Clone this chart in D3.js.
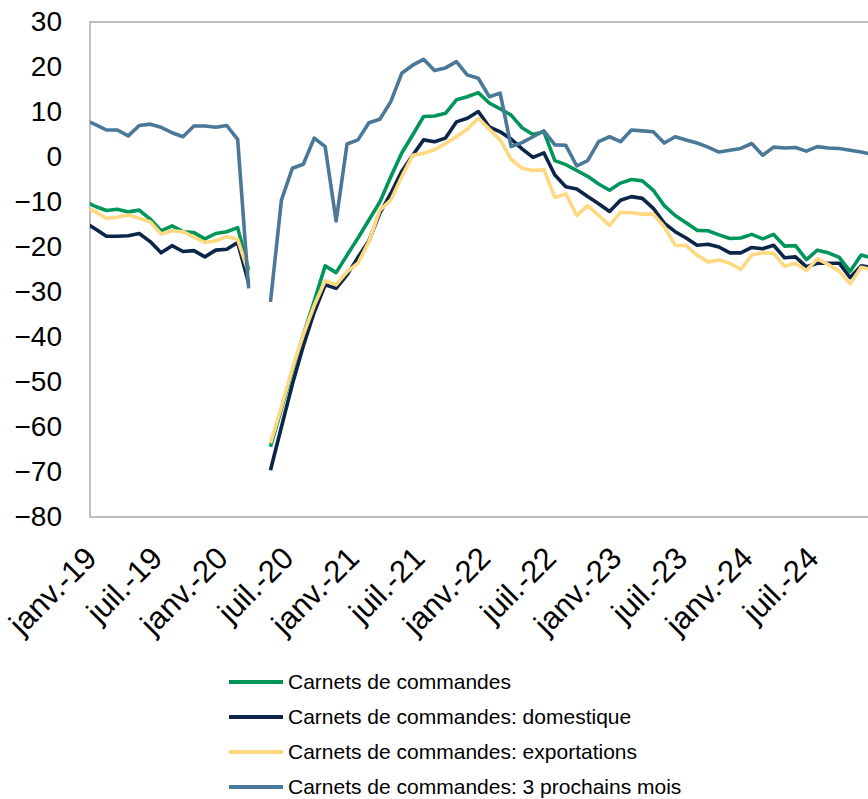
<!DOCTYPE html>
<html>
<head>
<meta charset="utf-8">
<script src="https://cdn.jsdelivr.net/npm/d3@7"></script>
<style>
  html, body { margin: 0; padding: 0; background: #fff; }
  svg { display: block; font-family: "Liberation Sans", Arial, sans-serif; }
</style>
</head>
<body>
<svg id="chart" width="868" height="799"></svg>
<script>
// Monthly survey balances, December 2018 to December 2024 (April 2020 not published).
const startMonth = new Date(2018, 11, 1);

const carnets = [
  -9.8, -11.0, -11.9, -11.6, -12.2, -11.8, -13.8, -16.4, -15.3, -16.6, -16.8, -18.2, -17.0,
  -16.6, -15.7, -25.1, null, -64.4, -56.0, -47.5, -39.5, -32.0, -24.2, -25.7, -21.8,
  -18.0, -14.0, -10.0, -4.4, 0.9, 4.9, 9.0, 9.1, 9.7, 12.7, 13.4, 14.3,
  12.0, 10.7, 9.3, 6.5, 5.0, 5.6, -0.8, -1.7, -3.0, -4.3, -6.0, -7.4,
  -5.8, -5.0, -5.3, -7.4, -10.8, -13.0, -14.6, -16.3, -16.4, -17.3, -18.1, -18.0,
  -17.2, -18.2, -17.2, -19.8, -19.7, -22.8, -20.7, -21.3, -22.3, -25.4, -21.8, -22.4
];

const domestique = [
  -14.5, -16.0, -17.6, -17.6, -17.5, -17.0, -18.8, -21.3, -19.7, -21.0, -20.8, -22.2, -20.7,
  -20.5, -19.0, -28.0, null, -69.6, -60.0, -50.5, -42.0, -34.5, -28.4, -29.2, -26.2,
  -22.3, -18.6, -12.5, -8.1, -3.2, 0.4, 3.8, 3.4, 4.2, 7.8, 8.6, 10.1,
  6.7, 5.6, 4.0, 1.8, -0.1, 0.9, -4.0, -6.6, -7.1, -8.8, -10.4, -12.1,
  -9.6, -8.8, -9.2, -11.4, -14.7, -16.6, -18.0, -19.6, -19.4, -20.0, -21.3, -21.3,
  -20.1, -20.4, -19.6, -22.4, -22.2, -24.4, -23.6, -23.6, -23.6, -26.8, -24.2, -24.5
];

const exportations = [
  -10.8, -12.2, -13.6, -13.4, -12.9, -13.6, -14.4, -17.1, -16.4, -16.6, -17.8, -19.0, -18.6,
  -17.7, -18.3, -25.8, null, -63.6, -55.5, -47.0, -39.5, -33.0, -27.5, -28.4, -25.5,
  -23.6, -18.8, -11.8, -9.6, -4.4, 0.4, 0.8, 1.6, 3.0, 4.5, 6.2, 8.6,
  6.2, 3.8, -0.5, -2.5, -3.0, -2.8, -9.0, -8.2, -13.0, -10.8, -13.0, -15.2,
  -12.3, -12.4, -12.7, -12.7, -15.5, -19.6, -19.7, -21.8, -23.3, -22.9, -23.6, -25.0,
  -21.8, -21.3, -21.4, -24.3, -23.6, -25.2, -22.6, -23.9, -25.4, -28.2, -24.5, -25.1
];

const prochainsMois = [
  8.3, 7.2, 6.0, 6.0, 4.7, 7.0, 7.3, 6.6, 5.4, 4.5, 6.9, 6.9, 6.6,
  7.0, 3.9, -29.2, null, -32.2, -9.6, -2.5, -1.6, 4.2, 2.3, -14.2, 2.9,
  3.8, 7.6, 8.4, 12.3, 18.6, 20.4, 21.7, 19.2, 19.8, 21.2, 18.2, 17.5,
  13.4, 14.2, 2.3, 3.2, 4.5, 5.8, 2.7, 2.6, -2.0, -0.8, 3.4, 4.5,
  3.4, 6.0, 5.8, 5.6, 3.1, 4.5, 3.8, 3.1, 2.2, 1.1, 1.5, 1.9,
  3.0, 0.4, 2.2, 2.0, 2.1, 1.3, 2.3, 2.0, 1.9, 1.5, 1.1, 0.6
];

const seriesNames = [
  "Carnets de commandes",
  "Carnets de commandes: domestique",
  "Carnets de commandes: exportations",
  "Carnets de commandes: 3 prochains mois"
];
const seriesColors = ["#00965A", "#0B2648", "#FFD982", "#4A7898"];

const yTicks = [30, 20, 10, 0, -10, -20, -30, -40, -50, -60, -70, -80];
const monthNames = ["janv.", "févr.", "mars", "avr.", "mai", "juin",
                    "juil.", "août", "sept.", "oct.", "nov.", "déc."];

const months = carnets.map((_, i) => d3.timeMonth.offset(startMonth, i));
const allSeries = [carnets, domestique, exportations, prochainsMois];

// Plot frame
const plot = { left: 90, top: 22, bottom: 517, right: 883 };
const svg = d3.select("#chart");

// index 1 = January 2019; axis begins half a month before it
const x = d3.scaleLinear()
  .domain([0.5, months.length - 0.5 + 0.5])
  .range([plot.left, plot.right]);
const y = d3.scaleLinear().domain([-80, 30]).range([plot.bottom, plot.top]);

svg.append("defs").append("clipPath").attr("id", "plotClip")
  .append("rect")
  .attr("x", plot.left).attr("y", plot.top - 10)
  .attr("width", plot.right - plot.left).attr("height", plot.bottom - plot.top + 20);

// frame lines (left, top, bottom)
const frame = svg.append("g").attr("stroke", "#BFBFBF").attr("stroke-width", 2).attr("fill", "none");
frame.append("path").attr("d", `M${plot.right},${plot.top}H${plot.left}V${plot.bottom}H${plot.right}`);

// y axis
const yAxis = svg.append("g")
  .attr("transform", `translate(${plot.left},0)`)
  .call(d3.axisLeft(y).tickValues(yTicks).tickSize(0).tickPadding(28).tickFormat(d3.format("d")));
yAxis.select(".domain").remove();
yAxis.selectAll("text")
  .attr("font-size", 28)
  .attr("fill", "#000")
  .attr("font-family", "'Liberation Sans', Arial, sans-serif");

// x labels every six months from janv.-19
const labelIdx = months.map((m, i) => i).filter(i => months[i].getFullYear() >= 2019 && months[i].getMonth() % 6 === 0);
const xLab = svg.append("g");
xLab.selectAll("text")
  .data(labelIdx)
  .join("text")
  .attr("transform", i => `translate(${x(i) + 3},${560}) rotate(-45)`)
  .attr("text-anchor", "end")
  .attr("font-size", 31)
  .attr("fill", "#000")
  .text(i => `${monthNames[months[i].getMonth()]}-${String(months[i].getFullYear()).slice(2)}`);

// series lines
const line = d3.line()
  .defined(d => d != null)
  .x((d, i) => x(i))
  .y(d => y(d));

const lines = svg.append("g").attr("clip-path", "url(#plotClip)");
allSeries.forEach((s, k) => {
  lines.append("path")
    .datum(s)
    .attr("fill", "none")
    .attr("stroke", seriesColors[k])
    .attr("stroke-width", 3.6)
    .attr("stroke-linejoin", "round")
    .attr("d", line);
});

// legend
const legend = svg.append("g");
const legendY = d3.scalePoint().domain(d3.range(seriesNames.length)).range([682, 787]);
seriesNames.forEach((name, k) => {
  const g = legend.append("g").attr("transform", `translate(0,${legendY(k)})`);
  g.append("line").attr("x1", 229).attr("x2", 283).attr("y1", 0).attr("y2", 0)
    .attr("stroke", seriesColors[k]).attr("stroke-width", 4);
  g.append("text").attr("x", 288).attr("y", 0).attr("dy", "0.35em")
    .attr("font-size", 21).attr("fill", "#000").text(name);
});
</script>
</body>
</html>
